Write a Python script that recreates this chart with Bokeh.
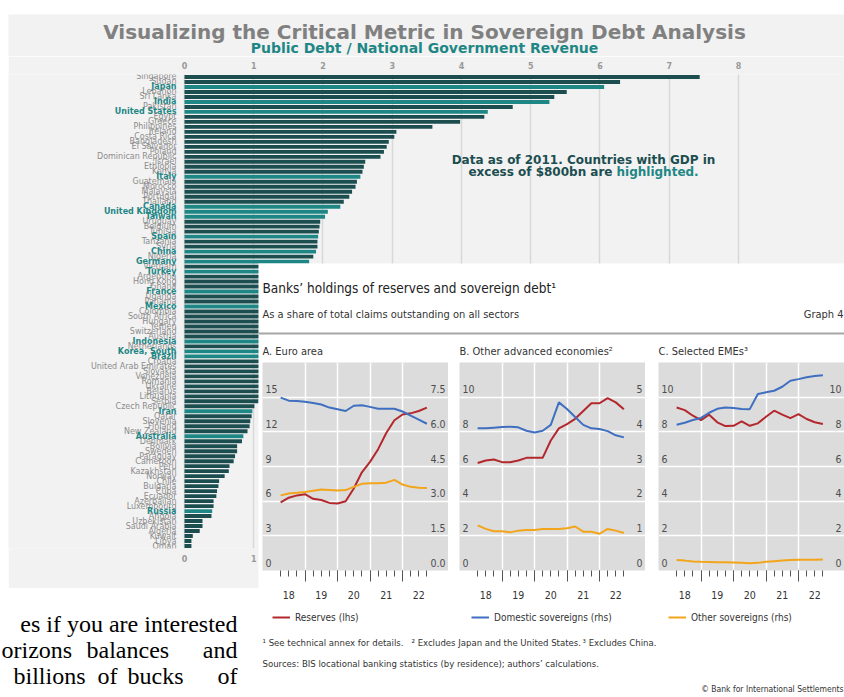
from bokeh.plotting import figure
from bokeh.models import (ColumnDataSource, Range1d, FactorRange, FixedTicker, LinearAxis,
                          Label, LabelSet, Span, Legend, LegendItem, GridBox)
from bokeh.core.properties import value
from bokeh.embed import file_html
from bokeh.resources import INLINE

# ---------------- data: public debt / government revenue (2011) ----------------
countries = [
    "Singapore", "Sudan", "Japan", "Lebanon", "Sri Lanka", "India", "Pakistan", "United States",
    "Egypt", "Greece", "Philippines", "Ireland", "Costa Rica", "Bangladesh", "El Salvador", "Poland",
    "Dominican Republic", "Israel", "Ethiopia", "Kenya", "Italy", "Guatemala", "Morocco", "Malaysia",
    "Portugal", "Thailand", "Canada", "United Kingdom", "Taiwan", "Uruguay", "Belgium", "Tunisia",
    "Spain", "Tanzania", "Syria", "China", "Nigeria", "Germany", "Vietnam", "Turkey", "Argentina",
    "Hong Kong", "Ghana", "France", "Uganda", "Panama", "Mexico", "Colombia", "South Africa",
    "Hungary", "Yemen", "Switzerland", "Austria", "Indonesia", "Netherlands", "Korea, South",
    "Brazil", "Croatia", "United Arab Emirates", "Slovakia", "Venezuela", "Romania", "Ukraine",
    "Belarus", "Lithuania", "Serbia", "Czech Republic", "Iran", "Qatar", "Slovenia", "Finland",
    "New Zealand", "Australia", "Denmark", "Bolivia", "Sweden", "Paraguay", "Cameroon", "Peru",
    "Kazakhstan", "Norway", "Chile", "Bulgaria", "Cuba", "Ecuador", "Azerbaijan", "Luxembourg",
    "Russia", "Angola", "Uzbekistan", "Saudi Arabia", "Algeria", "Kuwait", "Libya", "Oman",
]
debt_to_revenue = [
    7.44, 6.29, 6.06, 5.52, 5.34, 5.27, 4.74, 4.38,
    4.33, 3.98, 3.58, 3.06, 3.03, 2.95, 2.92, 2.88,
    2.83, 2.61, 2.59, 2.57, 2.54, 2.49, 2.47, 2.42,
    2.38, 2.30, 2.25, 2.07, 2.03, 1.96, 1.95, 1.94,
    1.93, 1.92, 1.92, 1.90, 1.86, 1.80, 1.78, 1.75, 1.72,
    1.70, 1.67, 1.64, 1.61, 1.58, 1.55, 1.52, 1.49,
    1.46, 1.44, 1.42, 1.40, 1.37, 1.34, 1.31,
    1.29, 1.26, 1.23, 1.20, 1.17, 1.15, 1.13,
    1.11, 1.09, 1.07, 1.01, 0.98, 0.97, 0.95, 0.94,
    0.91, 0.85, 0.83, 0.76, 0.76, 0.73, 0.71, 0.65,
    0.64, 0.58, 0.50, 0.49, 0.47, 0.46, 0.42, 0.42,
    0.40, 0.39, 0.26, 0.26, 0.22, 0.12, 0.10, 0.10,
]
large_economies = [
    "Japan", "India", "United States", "Italy", "Canada", "United Kingdom", "Taiwan", "Spain",
    "China", "Germany", "Turkey", "France", "Mexico", "Indonesia", "Korea, South", "Brazil",
    "Iran", "Australia", "Russia",
]
value_ticks = [0, 1, 2, 3, 4, 5, 6, 7, 8]

# ---------------- data: BIS graph 4 (quarterly, % of total claims) ----------------
quarters = [2018.25, 2018.5, 2018.75, 2019.0, 2019.25, 2019.5, 2019.75, 2020.0, 2020.25, 2020.5,
            2020.75, 2021.0, 2021.25, 2021.5, 2021.75, 2022.0, 2022.25, 2022.5, 2022.75]
year_breaks = [2019, 2020, 2021, 2022]
year_label_pos = [2018.5, 2019.5, 2020.5, 2021.5, 2022.5]
year_labels = ["18", "19", "20", "21", "22"]

euro_reserves = [5.9, 6.3, 6.5, 6.6, 6.2, 6.1, 5.85, 5.8, 6.0, 7.1, 8.5, 9.4, 10.5, 11.9, 13.0, 13.5, 13.6, 13.8, 14.1]
euro_domestic = [7.48, 7.35, 7.33, 7.3, 7.25, 7.18, 7.05, 6.98, 6.9, 7.13, 7.15, 7.08, 7.0, 7.0, 7.0, 6.88, 6.7, 6.53, 6.35]
euro_other = [3.25, 3.33, 3.36, 3.4, 3.45, 3.5, 3.48, 3.46, 3.48, 3.62, 3.75, 3.78, 3.78, 3.8, 3.92, 3.72, 3.62, 3.58, 3.57]

adv_reserves = [6.2, 6.35, 6.4, 6.25, 6.25, 6.35, 6.5, 6.5, 6.5, 7.5, 8.2, 8.45, 8.75, 9.2, 9.65, 9.65, 9.95, 9.7, 9.3]
adv_domestic = [4.1, 4.1, 4.12, 4.14, 4.15, 4.13, 4.03, 3.98, 4.03, 4.2, 4.85, 4.66, 4.43, 4.2, 4.1, 4.08, 4.02, 3.9, 3.84]
adv_other = [1.3, 1.2, 1.13, 1.13, 1.1, 1.15, 1.17, 1.17, 1.2, 1.2, 1.2, 1.22, 1.27, 1.12, 1.12, 1.06, 1.2, 1.15, 1.08]

eme_reserves = [9.4, 9.25, 8.93, 8.68, 8.99, 8.55, 8.33, 8.35, 8.6, 8.35, 8.49, 8.87, 9.22, 8.99, 8.79, 9.02, 8.74, 8.55, 8.45]
eme_domestic = [8.41, 8.52, 8.68, 8.8, 9.1, 9.33, 9.4, 9.38, 9.32, 9.31, 10.18, 10.28, 10.37, 10.6, 10.95, 11.04, 11.15, 11.22, 11.27]
eme_other = [0.6, 0.57, 0.52, 0.5, 0.49, 0.48, 0.47, 0.46, 0.45, 0.42, 0.44, 0.5, 0.54, 0.57, 0.6, 0.62, 0.62, 0.62, 0.63]

euro_lhs_ticks = [0, 3, 6, 9, 12, 15]
euro_rhs_ticks = [0, 1.5, 3.0, 4.5, 6.0, 7.5]
euro_rhs_labels = ["0.0", "1.5", "3.0", "4.5", "6.0", "7.5"]
adv_lhs_ticks = [0, 2, 4, 6, 8, 10]
adv_rhs_ticks = [0, 1, 2, 3, 4, 5]
eme_lhs_ticks = [0, 2, 4, 6, 8, 10]
eme_rhs_ticks = [0, 2, 4, 6, 8, 10]
legend_labels = ["Reserves (lhs)", "Domestic sovereigns (rhs)", "Other sovereigns (rhs)"]

# ---------------- styles ----------------
BAR_BG = "#f2f2f2"
DARK = "#1c4e50"
TEAL = "#1e8785"
LABEL_GRAY = "#8c8c8c"
PANEL_BG = "#dcdcdc"
RED = "#b3282d"
BLUE = "#3f6fc0"
ORANGE = "#f2a51a"
NARROW = "Liberation Sans Narrow, DejaVu Sans Condensed, Arial Narrow, sans-serif"
TXT = "#333333"
NAN = float("nan")


def blank(width, height, bg):
    p = figure(width=width, height=height, x_range=Range1d(0, width), y_range=Range1d(0, height),
               x_axis_location=None, y_axis_location=None, output_backend="svg",
               toolbar_location=None, min_border=0, outline_line_color=None,
               background_fill_color=bg, border_fill_color=bg)
    p.grid.grid_line_color = None
    return p


# ================= background bar chart =================
is_large = [c in large_economies for c in countries]
src = ColumnDataSource(dict(
    country=countries,
    value=debt_to_revenue,
    bar_color=[TEAL if h else DARK for h in is_large],
    label_color=[TEAL if h else LABEL_GRAY for h in is_large],
    label_style=["bold" if h else "normal" for h in is_large],
))

p_bar = figure(width=836, height=532, x_range=Range1d(-2.5415, 9.531),
               y_range=FactorRange(factors=countries[::-1]),
               x_axis_location="above", y_axis_location=None,
               output_backend="svg", toolbar_location=None,
               min_border_left=0, min_border_right=0, min_border_top=18, min_border_bottom=40,
               background_fill_color=BAR_BG, border_fill_color=BAR_BG, outline_line_color=None)
p_bar.add_layout(LinearAxis(), "below")
for ax in p_bar.xaxis:
    ax.ticker = FixedTicker(ticks=value_ticks)
    ax.axis_line_color = None
    ax.major_tick_line_color = None
    ax.minor_tick_line_color = None
    ax.major_label_text_font = "DejaVu Sans"
    ax.major_label_text_font_size = "8px"
    ax.major_label_text_font_style = "bold"
    ax.major_label_text_color = "#999999"
    ax.major_label_standoff = 0
p_bar.xgrid.grid_line_color = "#d8d8d8"
p_bar.xgrid.grid_line_width = 1.5
p_bar.ygrid.grid_line_color = None

p_bar.hbar(y="country", left=0, right="value", height=0.78, source=src,
           fill_color="bar_color", line_color=None)
p_bar.text(x=0, y="country", text="country", source=src, x_offset=-8,
           text_align="right", text_baseline="middle",
           text_color="label_color", text_font_style="label_style",
           text_font=value("DejaVu Sans"), text_font_size=value("8px"))

NOTE = dict(x_units="screen", y_units="screen", text_baseline="middle", text_font="DejaVu Sans",
            text_font_style="bold", text_font_size="12px")
p_bar.add_layout(Label(x=575, y=389, text="Data as of 2011. Countries with GDP in",
                       text_align="center", text_color=DARK, **NOTE))
p_bar.add_layout(Label(x=604, y=377, text="excess of $800bn are",
                       text_align="right", text_color=DARK, **NOTE))
p_bar.add_layout(Label(x=608, y=377, text="highlighted.",
                       text_align="left", text_color=TEAL, **NOTE))

# title strip above the bar chart
p_title = blank(836, 42, BAR_BG)
p_title.add_layout(Label(x=416, y=25, x_units="screen", y_units="screen",
                         text="Visualizing the Critical Metric in Sovereign Debt Analysis",
                         text_align="center", text_baseline="middle", text_font="DejaVu Sans",
                         text_font_style="bold", text_font_size="20px", text_color="#808080"))
p_title.add_layout(Label(x=416, y=9, x_units="screen", y_units="screen",
                         text="Public Debt / National Government Revenue",
                         text_align="center", text_baseline="middle", text_font="DejaVu Sans",
                         text_font_style="bold", text_font_size="14px", text_color=TEAL))

# ================= clipped page text (bottom-left) =================
p_snip = blank(258, 109, "white")
SERIF = dict(x_units="screen", y_units="screen", text_baseline="middle",
             text_font="Liberation Serif", text_font_size="24px", text_color="black")
p_snip.add_layout(Label(x=237, y=74, text="es if you are interested", text_align="right", **SERIF))
p_snip.add_layout(Label(x=1, y=48, text="orizons", text_align="left", **SERIF))
p_snip.add_layout(Label(x=86, y=48, text="balances", text_align="left", **SERIF))
p_snip.add_layout(Label(x=237, y=48, text="and", text_align="right", **SERIF))
p_snip.add_layout(Label(x=13, y=22, text="billions", text_align="left", **SERIF))
p_snip.add_layout(Label(x=97, y=22, text="of", text_align="left", **SERIF))
p_snip.add_layout(Label(x=127, y=22, text="bucks", text_align="left", **SERIF))
p_snip.add_layout(Label(x=237, y=22, text="of", text_align="right", **SERIF))

# ================= BIS chart base (white card with texts and legend) =================
p_base = blank(586, 434, "white")


def txt(x, y, s, size, align="left", color=TXT):
    p_base.add_layout(Label(x=x, y=y, x_units="screen", y_units="screen", text=s,
                            text_align=align, text_baseline="middle", text_font=NARROW,
                            text_font_size=size, text_color=color))


txt(4, 410, "Banks\u2019 holdings of reserves and sovereign debt\u00b9", "13.5px", color="#222222")
txt(4, 383, "As a share of total claims outstanding on all sectors", "11px")
txt(585, 383, "Graph 4", "11px", align="right")
p_base.add_layout(Span(location=364, dimension="width", line_color="#a6a6a6", line_width=2))
txt(4, 346, "A. Euro area", "11px")
txt(201, 346, "B. Other advanced economies\u00b2", "11px")
txt(400, 346, "C. Selected EMEs\u00b3", "11px")
txt(4, 55, "\u00b9 See technical annex for details.", "9.5px")
txt(153, 55, "\u00b2 Excludes Japan and the United States.", "9.5px")
txt(324, 55, "\u00b3 Excludes China.", "9.5px")
txt(4, 34, "Sources: BIS locational banking statistics (by residence); authors\u2019 calculations.", "9.5px")
txt(585, 9, "\u00a9 Bank for International Settlements", "8.5px", align="right")

legend_x = [14, 213, 410]
for lbl, col, lx in zip(legend_labels, [RED, BLUE, ORANGE], legend_x):
    key = p_base.line(x=[NAN], y=[NAN], line_color=col, line_width=2)
    p_base.add_layout(Legend(items=[LegendItem(label=lbl, renderers=[key])],
                             location=(lx, 74), orientation="horizontal",
                             border_line_color=None, background_fill_alpha=0,
                             padding=0, margin=0, spacing=0, glyph_width=18, glyph_height=12,
                             label_height=12, label_standoff=5, label_text_font=NARROW,
                             label_text_font_size="10px", label_text_color=TXT))


# ================= BIS panels =================
def make_panel(lhs_ticks, rhs_ticks, rhs_labels, lhs_max, rhs_max, reserves, domestic, other):
    p = figure(width=186, height=242, x_range=Range1d(2017.692, 2023.415),
               y_range=Range1d(0, lhs_max), output_backend="svg", toolbar_location=None,
               min_border_left=0, min_border_right=0, min_border_top=0, min_border_bottom=34,
               background_fill_color=PANEL_BG, border_fill_color="white",
               outline_line_color=None)
    p.extra_y_ranges = {"rhs": Range1d(0, rhs_max)}

    ax = p.xaxis[0]
    ax.ticker = FixedTicker(ticks=year_breaks, minor_ticks=quarters)
    ax.axis_line_color = None
    ax.major_tick_in = 0
    ax.major_tick_out = 11
    ax.minor_tick_in = 0
    ax.minor_tick_out = 6
    ax.major_tick_line_color = "#555555"
    ax.minor_tick_line_color = "#555555"
    ax.major_label_text_font_size = "1px"
    ax.major_label_text_color = None
    ax.major_label_standoff = 0

    ax2 = LinearAxis(ticker=FixedTicker(ticks=year_label_pos),
                     major_label_overrides=dict(zip(year_label_pos, year_labels)),
                     axis_line_color=None, major_tick_line_color=None,
                     minor_tick_line_color=None, major_label_standoff=3,
                     major_label_text_font=NARROW, major_label_text_font_size="10.5px",
                     major_label_text_color=TXT)
    p.add_layout(ax2, "below")

    p.yaxis.visible = False
    p.yaxis.ticker = FixedTicker(ticks=lhs_ticks[1:])
    p.xgrid.grid_line_color = "white"
    p.xgrid.grid_line_width = 1.5
    p.ygrid.grid_line_color = "white"
    p.ygrid.grid_line_width = 1.5

    left_src = ColumnDataSource(dict(y=lhs_ticks, t=[str(v) for v in lhs_ticks]))
    right_src = ColumnDataSource(dict(y=rhs_ticks, t=rhs_labels))
    p.add_layout(LabelSet(x=3, y="y", text="t", source=left_src, x_units="screen",
                          y_offset=8, text_align="left", text_baseline="middle",
                          text_font=value(NARROW), text_font_size=value("10.5px"),
                          text_color="#4d4d4d"))
    p.add_layout(LabelSet(x=183, y="y", text="t", source=right_src, x_units="screen",
                          y_range_name="rhs", y_offset=8, text_align="right",
                          text_baseline="middle", text_font=value(NARROW),
                          text_font_size=value("10.5px"), text_color="#4d4d4d"))

    p.line(quarters, reserves, line_color=RED, line_width=2)
    p.line(quarters, domestic, line_color=BLUE, line_width=2, y_range_name="rhs")
    p.line(quarters, other, line_color=ORANGE, line_width=2, y_range_name="rhs")
    return p


pA = make_panel(euro_lhs_ticks, euro_rhs_ticks, euro_rhs_labels, 18, 9,
                euro_reserves, euro_domestic, euro_other)
pB = make_panel(adv_lhs_ticks, adv_rhs_ticks, [str(v) for v in adv_rhs_ticks], 12, 6,
                adv_reserves, adv_domestic, adv_other)
pC = make_panel(eme_lhs_ticks, eme_rhs_ticks, [str(v) for v in eme_rhs_ticks], 12, 12,
                eme_reserves, eme_domestic, eme_other)

grid = GridBox(children=[(p_title, 1, 1, 1, 7), (p_bar, 2, 1, 3, 7), (p_snip, 5, 0, 2, 2),
                         (p_base, 3, 2, 4, 6),
                         (pA, 4, 3, 2, 1), (pB, 4, 5, 2, 1), (pC, 4, 7, 2, 1)],
               rows=["14px", "42px", "207px", "99px", "226px", "16px", "93px"],
               cols=["8px", "250px", "4px", "186px", "11px", "186px", "13px", "186px"],
               spacing=0)

open("out.html", "w").write(file_html(grid, INLINE))
